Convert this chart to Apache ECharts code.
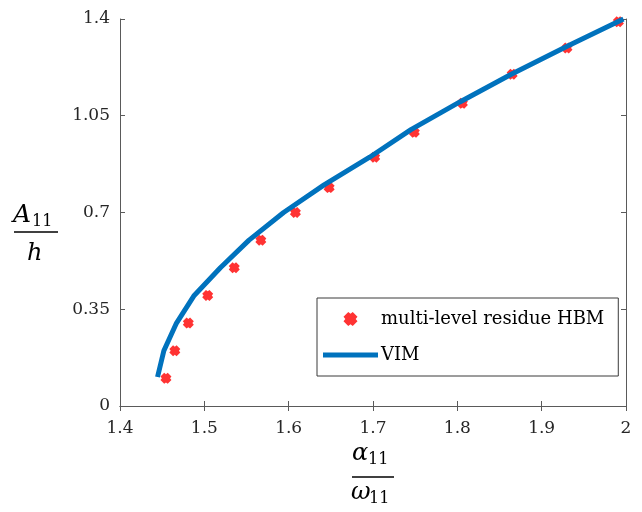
<!DOCTYPE html>
<html>
<head>
<meta charset="utf-8">
<script src="https://cdn.jsdelivr.net/npm/echarts@6/dist/echarts.min.js"></script>
<style>html,body{margin:0;padding:0;background:#fff}#c{width:642px;height:512px}</style>
</head>
<body>
<div id="c"></div>
<script>
// Data
var hbmX = [1.4545, 1.465, 1.481, 1.504, 1.5355, 1.567, 1.608, 1.648, 1.702, 1.749, 1.806, 1.865, 1.930, 1.991];
var hbmY = [0.10, 0.20, 0.30, 0.40, 0.50, 0.60, 0.70, 0.79, 0.90, 0.99, 1.095, 1.20, 1.295, 1.39];
var vimX = [1.4445, 1.452, 1.467, 1.488, 1.519, 1.553, 1.594, 1.642, 1.696, 1.745, 1.803, 1.864, 1.929, 1.997];
var vimY = [0.105, 0.20, 0.30, 0.40, 0.50, 0.60, 0.70, 0.80, 0.90, 1.00, 1.10, 1.20, 1.30, 1.40];
var xTicks = [1.4, 1.5, 1.6, 1.7, 1.8, 1.9, 2];
var yTicks = [0, 0.35, 0.7, 1.05, 1.4];
var seriesNames = ['multi-level residue HBM', 'VIM'];

var markerPath = 'path://M3.4,0 L5,1.3 L6.6,0 L10,3.4 L8.7,5 L10,6.6 L6.6,10 L5,8.7 L3.4,10 L0,6.6 L1.3,5 L0,3.4 Z';
var lineIcon = 'path://M0,0 L55,0 L55,5 L0,5 Z';
var font = 'DejaVu Serif';
var axisColor = '#5a5a5a';
var textColor = '#262626';

function pairs(xs, ys) { return xs.map(function (x, i) { return [x, ys[i]]; }); }

var chart = echarts.init(document.getElementById('c'), null, {renderer: 'canvas'});
var baseAxis = {
  axisLine: {show: true, lineStyle: {color: axisColor, width: 1}},
  axisTick: {show: true, inside: true, length: 5, lineStyle: {color: axisColor}},
  splitLine: {show: false}
};
function fmt(v) { return String(+v.toFixed(2)); }
chart.setOption({
  animation: false,
  backgroundColor: '#fff',
  grid: {left: 120, top: 19, width: 506, height: 387, containLabel: false},
  xAxis: [
    Object.assign({}, baseAxis, {
      type: 'value', min: xTicks[0], max: xTicks[xTicks.length - 1], interval: 0.1, position: 'bottom',
      axisLabel: {margin: 14, color: textColor, fontFamily: font, fontSize: 17, formatter: fmt}
    }),
    Object.assign({}, baseAxis, {
      type: 'value', min: xTicks[0], max: xTicks[xTicks.length - 1], interval: 0.1, position: 'top',
      axisLabel: {show: false}
    })
  ],
  yAxis: [
    Object.assign({}, baseAxis, {
      type: 'value', min: yTicks[0], max: yTicks[yTicks.length - 1], interval: 0.35, position: 'left',
      axisLabel: {margin: 10, color: textColor, fontFamily: font, fontSize: 17, formatter: fmt}
    }),
    Object.assign({}, baseAxis, {
      type: 'value', min: yTicks[0], max: yTicks[yTicks.length - 1], interval: 0.35, position: 'right',
      axisLabel: {show: false}
    })
  ],
  legend: {
    orient: 'vertical', left: 317, top: 298,
    padding: [11, 14, 11, 6], itemGap: 16,
    itemWidth: 55, itemHeight: 14,
    borderColor: '#3a3a3a', borderWidth: 1, backgroundColor: '#fff',
    textStyle: {fontFamily: font, fontSize: 18, lineHeight: 20, color: '#000', padding: [0, 0, 0, -2]},
    data: [
      {name: seriesNames[0], icon: markerPath, itemStyle: {color: '#ff0000'}},
      {name: seriesNames[1], icon: lineIcon, itemStyle: {color: '#0072BD'}}
    ]
  },
  series: [
    {
      name: seriesNames[0], type: 'scatter', symbol: markerPath, symbolSize: 11,
      itemStyle: {color: '#ff0000'}, z: 3,
      data: pairs(hbmX, hbmY)
    },
    {
      name: seriesNames[1], type: 'line', showSymbol: false, symbol: 'none',
      lineStyle: {color: '#0072BD', width: 5}, itemStyle: {color: '#0072BD'}, z: 4,
      data: pairs(vimX, vimY)
    }
  ],
  graphic: [
    // y-axis label: A_11 / h
    {type: 'text', left: 13, top: 203, style: {text: 'A', font: 'italic 25px "DejaVu Serif"', fill: '#000'}},
    {type: 'text', left: 32, top: 214, style: {text: '11', font: '16px "DejaVu Serif"', fill: '#000'}},
    {type: 'line', shape: {x1: 14, y1: 232, x2: 58, y2: 232}, style: {stroke: '#000', lineWidth: 1.3}},
    {type: 'text', left: 27, top: 242, style: {text: 'h', font: 'italic 24px "DejaVu Serif"', fill: '#000'}},
    // x-axis label: alpha_11 / omega_11
    {type: 'text', left: 352, top: 442, style: {text: 'α', font: 'italic 24px "DejaVu Serif"', fill: '#000'}},
    {type: 'text', left: 368, top: 452, style: {text: '11', font: '16px "DejaVu Serif"', fill: '#000'}},
    {type: 'line', shape: {x1: 352, y1: 477, x2: 394, y2: 477}, style: {stroke: '#000', lineWidth: 1.3}},
    {type: 'text', left: 351, top: 481, style: {text: 'ω', font: 'italic 24px "DejaVu Serif"', fill: '#000'}},
    {type: 'text', left: 369, top: 491, style: {text: '11', font: '16px "DejaVu Serif"', fill: '#000'}}
  ]
});
</script>
</body>
</html>
